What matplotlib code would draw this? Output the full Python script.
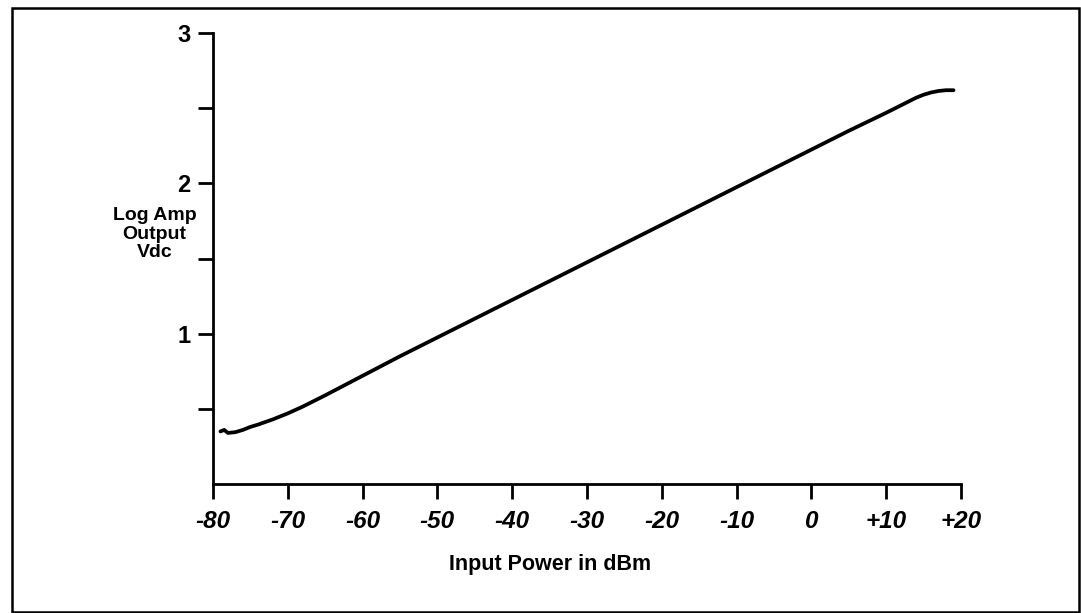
import matplotlib
matplotlib.use("Agg")
import matplotlib.pyplot as plt
from matplotlib.patches import Rectangle

# ── Log amp transfer curve: input power (dBm) vs output (Vdc) ──
input_dbm = [-79, -78.5, -78, -77, -76, -75, -74, -72, -70, -68, -65,
             -60, -55, -50, -45, -40, -35, -30, -25, -20, -15, -10,
             -5, 0, 5, 10, 12, 14, 15, 16, 17, 18, 19]
output_vdc = [0.35, 0.36, 0.34, 0.345, 0.36, 0.38, 0.395, 0.43, 0.47, 0.515, 0.59,
              0.72, 0.85, 0.975, 1.10, 1.225, 1.35, 1.475, 1.60, 1.725, 1.85, 1.975,
              2.10, 2.225, 2.35, 2.47, 2.52, 2.57, 2.59, 2.605, 2.615, 2.62, 2.62]

x_ticks = [-80, -70, -60, -50, -40, -30, -20, -10, 0, 10, 20]
x_labels = ["-80", "-70", "-60", "-50", "-40", "-30", "-20", "-10", "0", "+10", "+20"]
y_major = [1, 2, 3]
y_minor = [0.5, 1.5, 2.5]

plt.rcParams["font.family"] = ["Liberation Sans", "DejaVu Sans"]
plt.rcParams["font.weight"] = "bold"

fig = plt.figure(figsize=(10.81, 6.13), dpi=100)
ax = fig.add_axes([0.197, 0.2104, 0.692, 0.7356])

ax.plot(input_dbm, output_vdc, color="black", lw=2.7, solid_capstyle="round")

ax.set_xlim(-80, 20)
ax.set_ylim(0, 3)
for side in ("top", "right"):
    ax.spines[side].set_visible(False)
for side in ("left", "bottom"):
    ax.spines[side].set_linewidth(2.0)

ax.set_xticks(x_ticks)
ax.set_xticklabels(x_labels, fontsize=17.5, fontweight="bold", fontstyle="italic")
ax.set_yticks(y_major)
ax.set_yticklabels([str(v) for v in y_major], fontsize=17, fontweight="bold")
ax.set_yticks(y_minor, minor=True)
ax.tick_params(axis="x", which="both", direction="out", length=11, width=2.0, pad=8)
ax.tick_params(axis="y", which="both", direction="out", length=11, width=2.0, pad=5)

ax.set_xlabel("Input Power in dBm", fontsize=15.5, fontweight="bold")
ax.xaxis.set_label_coords(0.45, -0.155)
fig.text(0.143, 0.618, "Log Amp\nOutput\nVdc", fontsize=14, fontweight="bold",
         ha="center", va="center", linespacing=1.1)

# Outer frame around the whole figure
fig.patches.append(Rectangle((12 / 1081, 1 / 613), 1067 / 1081, 604 / 613,
                             transform=fig.transFigure, fill=False,
                             edgecolor="black", lw=1.8))

fig.savefig("out.png", dpi=100)
